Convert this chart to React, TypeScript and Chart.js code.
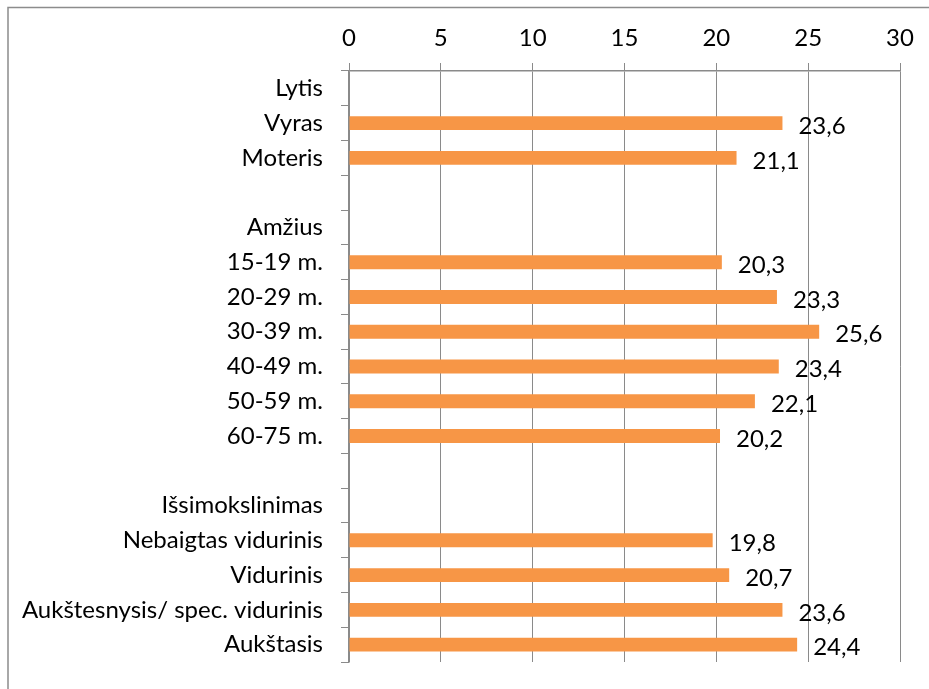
import React, { useEffect, useRef } from "react";
import { Chart, registerables } from "chart.js";

Chart.register(...registerables);

const categories: string[] = [
  "Lytis",
  "Vyras",
  "Moteris",
  "",
  "Amžius",
  "15-19 m.",
  "20-29 m.",
  "30-39 m.",
  "40-49 m.",
  "50-59 m.",
  "60-75 m.",
  "",
  "Išsimokslinimas",
  "Nebaigtas vidurinis",
  "Vidurinis",
  "Aukštesnysis/ spec. vidurinis",
  "Aukštasis",
];

const values: (number | null)[] = [
  null, 23.6, 21.1,
  null,
  null, 20.3, 23.3, 25.6, 23.4, 22.1, 20.2,
  null,
  null, 19.8, 20.7, 23.6, 24.4,
];

const xTicks: number[] = [0, 5, 10, 15, 20, 25, 30];

const FONT_FAMILY = "Lato, 'Noto Sans', sans-serif";
const FONT_SIZE = 24;
const GRID_COLOR = "#8a8a8a";
const BAR_COLOR = "#F79646";

const framePlugin = {
  id: "frame",
  beforeDraw(chart: any) {
    const ctx = chart.ctx;
    ctx.save();
    ctx.fillStyle = "#ffffff";
    ctx.fillRect(0, 0, chart.width, chart.height);
    ctx.strokeStyle = "#8c8c8c";
    ctx.lineWidth = 1.5;
    ctx.beginPath();
    ctx.moveTo(8, chart.height);
    ctx.lineTo(8, 7.5);
    ctx.lineTo(chart.width, 7.5);
    ctx.stroke();
    ctx.restore();
  },
};

const labelPlugin = {
  id: "barLabels",
  afterDatasetsDraw(chart: any) {
    const ctx = chart.ctx;
    const meta = chart.getDatasetMeta(0);
    ctx.save();
    ctx.font = `${FONT_SIZE}px ${FONT_FAMILY}`;
    ctx.fillStyle = "#000000";
    ctx.textAlign = "left";
    ctx.textBaseline = "middle";
    meta.data.forEach((bar: any, i: number) => {
      const v = values[i];
      if (v === null || v === undefined) return;
      const text = v.toFixed(1).replace(".", ",");
      ctx.fillText(text, bar.x + 16, bar.y + 3);
    });
    ctx.restore();
  },
};

export default function App() {
  const canvasRef = useRef<HTMLCanvasElement | null>(null);

  useEffect(() => {
    if (!canvasRef.current) return;
    const chart = new Chart(canvasRef.current, {
      type: "bar",
      data: {
        labels: categories,
        datasets: [
          {
            data: values as any,
            backgroundColor: BAR_COLOR,
            borderWidth: 0,
            categoryPercentage: 1,
            barPercentage: 0.4,
          },
        ],
      },
      options: {
        indexAxis: "y",
        responsive: false,
        animation: false,
        devicePixelRatio: 1,
        layout: { padding: { left: 0, top: 0, right: 29, bottom: 27 } },
        plugins: {
          legend: { display: false },
          tooltip: { enabled: false },
        },
        scales: {
          x: {
            position: "top",
            min: 0,
            max: 30,
            afterBuildTicks: (scale: any) => {
              scale.ticks = xTicks.map((v) => ({ value: v }));
            },
            afterFit: (scale: any) => {
              scale.height = 71;
            },
            ticks: {
              stepSize: 5,
              color: "#000000",
              font: { family: FONT_FAMILY, size: FONT_SIZE },
              padding: 10,
            },
            grid: {
              color: GRID_COLOR,
              lineWidth: 1,
              tickLength: 8,
              drawTicks: true,
            },
            border: { color: GRID_COLOR, width: 1.5 },
          },
          y: {
            afterFit: (scale: any) => {
              scale.width = 349;
              scale.paddingTop = 0;
              scale.paddingBottom = 0;
            },
            ticks: {
              autoSkip: false,
              color: "#000000",
              font: { family: FONT_FAMILY, size: FONT_SIZE },
              padding: 18,
            },
            grid: {
              offset: true,
              drawOnChartArea: false,
              drawTicks: true,
              tickLength: 8,
              color: GRID_COLOR,
              lineWidth: 1,
            },
            border: { color: GRID_COLOR, width: 1.5 },
          },
        },
      },
      plugins: [framePlugin, labelPlugin],
    });
    return () => chart.destroy();
  }, []);

  return (
    <div style={{ position: "fixed", left: 0, top: 0, width: 929, height: 689 }}>
      <canvas ref={canvasRef} width={929} height={689} style={{ width: 929, height: 689 }} />
    </div>
  );
}
